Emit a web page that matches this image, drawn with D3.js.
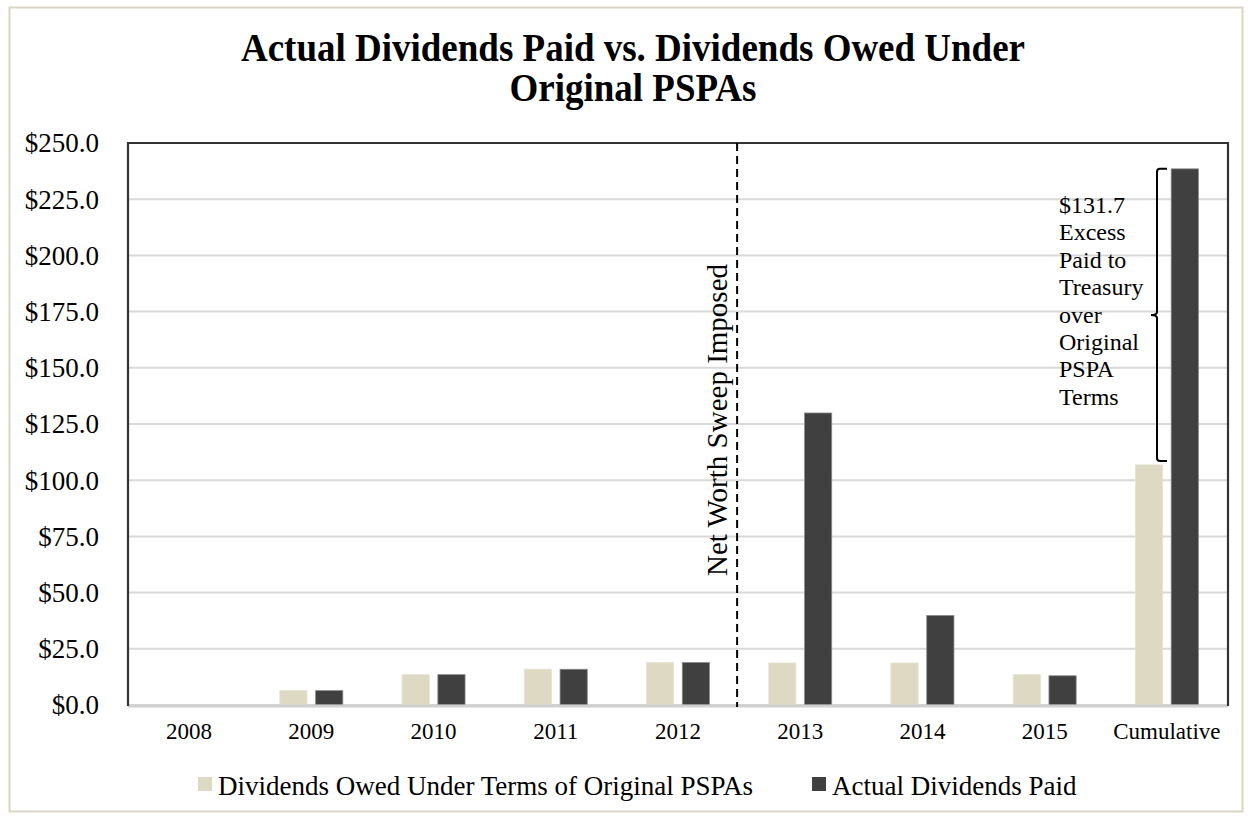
<!DOCTYPE html>
<html>
<head>
<meta charset="utf-8">
<script src="https://cdn.jsdelivr.net/npm/d3@7"></script>
<style>
  html, body { margin: 0; padding: 0; background: #ffffff; }
  svg { display: block; }
  text { font-family: "Liberation Serif", "Times New Roman", serif; fill: #000; }
</style>
</head>
<body>
<svg id="chart" width="1252" height="820"></svg>
<script>
const categories = ["2008", "2009", "2010", "2011", "2012", "2013", "2014", "2015", "Cumulative"];
const owedValues = [0, 6.4, 13.5, 15.9, 18.9, 18.7, 18.7, 13.6, 106.8];
const paidValues = [0, 6.4, 13.5, 15.9, 18.9, 129.9, 39.8, 13.0, 238.5];
const seriesNames = ["Dividends Owed Under Terms of Original PSPAs", "Actual Dividends Paid"];
const seriesColors = ["#DDD9C3", "#404040"];
const yTicks = [0, 25, 50, 75, 100, 125, 150, 175, 200, 225, 250];
const titleLines = ["Actual Dividends Paid vs. Dividends Owed Under", "Original PSPAs"];
const sweepLabel = "Net Worth Sweep Imposed";
const sweepBefore = "2013";
const excessLines = ["$131.7", "Excess", "Paid to", "Treasury", "over", "Original", "PSPA", "Terms"];

const svg = d3.select("#chart");
const plot = { left: 128, right: 1228, top: 143, bottom: 705 };

// outer frame
svg.append("rect").attr("x", 9.5).attr("y", 7.5).attr("width", 1233).attr("height", 804)
  .attr("fill", "#fff").attr("stroke", "#D9D6C6").attr("stroke-width", 2);

// title (condensed bold serif)
svg.append("g").attr("transform", "translate(633,0) scale(0.925,1)")
  .selectAll("text").data(titleLines).join("text")
  .attr("x", 0).attr("y", (d, i) => 61 + i * 40)
  .attr("text-anchor", "middle").attr("font-weight", "bold").attr("font-size", 40)
  .text(d => d);

const x0 = d3.scaleBand().domain(categories).range([plot.left, plot.right]).padding(0);
const groupW = 63;
const x1 = d3.scaleBand().domain([0, 1])
  .range([x0.bandwidth() / 2 - groupW / 2, x0.bandwidth() / 2 + groupW / 2]).paddingInner(0.24);
const y = d3.scaleLinear().domain([0, 250]).range([plot.bottom, plot.top]);

// gridlines
svg.append("g").selectAll("line").data(yTicks).join("line")
  .attr("x1", plot.left).attr("x2", plot.right)
  .attr("y1", d => y(d)).attr("y2", d => y(d))
  .attr("stroke", "#D9D9D9").attr("stroke-width", 2);

// y axis labels
const yAxis = d3.axisLeft(y).tickValues(yTicks).tickSize(0).tickPadding(29)
  .tickFormat(d => "$" + d3.format(".1f")(d));
const yg = svg.append("g").attr("transform", `translate(${plot.left},0)`).call(yAxis);
yg.select(".domain").remove();
yg.selectAll("text").attr("font-size", 27).attr("font-family", "Liberation Serif, serif").attr("dy", "0.33em");

// x axis labels
const xAxis = d3.axisBottom(x0).tickSize(0).tickPadding(18);
const xg = svg.append("g").attr("transform", `translate(0,${plot.bottom})`).call(xAxis);
xg.select(".domain").remove();
xg.selectAll("text").attr("font-size", 23).attr("font-family", "Liberation Serif, serif");

// bars
const rows = categories.map((c, i) => ({ cat: c, vals: [owedValues[i], paidValues[i]] }));
const groups = svg.append("g").selectAll("g").data(rows).join("g")
  .attr("transform", d => `translate(${x0(d.cat)},0)`);
groups.selectAll("rect").data(d => d.vals.map((v, k) => ({ v, k }))).join("rect")
  .filter(d => d.v > 0)
  .attr("x", d => x1(d.k)).attr("width", x1.bandwidth())
  .attr("y", d => y(d.v)).attr("height", d => y(0) - y(d.v))
  .attr("fill", d => seriesColors[d.k])
  .attr("stroke", d => d.k === 1 ? "#8a8a8a" : "#E6E3D2").attr("stroke-width", 0.8);

// bottom axis line
svg.append("line").attr("x1", plot.left).attr("x2", plot.right)
  .attr("y1", y(0) + 1).attr("y2", y(0) + 1).attr("stroke", "#D0D0D0").attr("stroke-width", 3);

// plot border (top, left, right)
svg.append("path")
  .attr("d", `M${plot.left},${plot.bottom + 1}V${plot.top}H${plot.right}V${plot.bottom + 1}`)
  .attr("fill", "none").attr("stroke", "#333").attr("stroke-width", 2.2);

// dashed sweep line
const sx = x0(sweepBefore) - 2;
svg.append("line").attr("x1", sx).attr("x2", sx).attr("y1", plot.top).attr("y2", plot.bottom + 2)
  .attr("stroke", "#000").attr("stroke-width", 2).attr("stroke-dasharray", "8,5");
svg.append("text")
  .attr("transform", `translate(${sx - 10},${420}) rotate(-90)`)
  .attr("text-anchor", "middle").attr("font-size", 29)
  .text(sweepLabel);

// bracket
const cumIdx = categories.length - 1;
const bx = 1157;
const bTop = y(paidValues[cumIdx]);
const bBot = y(owedValues[cumIdx]) - 4;
const bMid = (bTop + bBot) / 2;
svg.append("path")
  .attr("d", `M${bx + 10},${bTop} H${bx + 3} Q${bx},${bTop} ${bx},${bTop + 3} V${bMid - 3} Q${bx},${bMid} ${bx - 6},${bMid} Q${bx},${bMid} ${bx},${bMid + 3} V${bBot - 3} Q${bx},${bBot} ${bx + 3},${bBot} H${bx + 10}`)
  .attr("fill", "none").attr("stroke", "#000").attr("stroke-width", 2);

svg.append("g").selectAll("text").data(excessLines).join("text")
  .attr("x", 1059).attr("y", (d, i) => 213 + i * 27.4)
  .attr("font-size", 24).text(d => d);

// legend
const legend = svg.append("g");
const legX = [198, 812];
seriesNames.forEach((n, i) => {
  legend.append("rect").attr("x", legX[i]).attr("y", 777).attr("width", 14).attr("height", 14)
    .attr("fill", seriesColors[i]);
  legend.append("text").attr("x", legX[i] + 20).attr("y", 795).attr("font-size", 27).text(n);
});
</script>
</body>
</html>
